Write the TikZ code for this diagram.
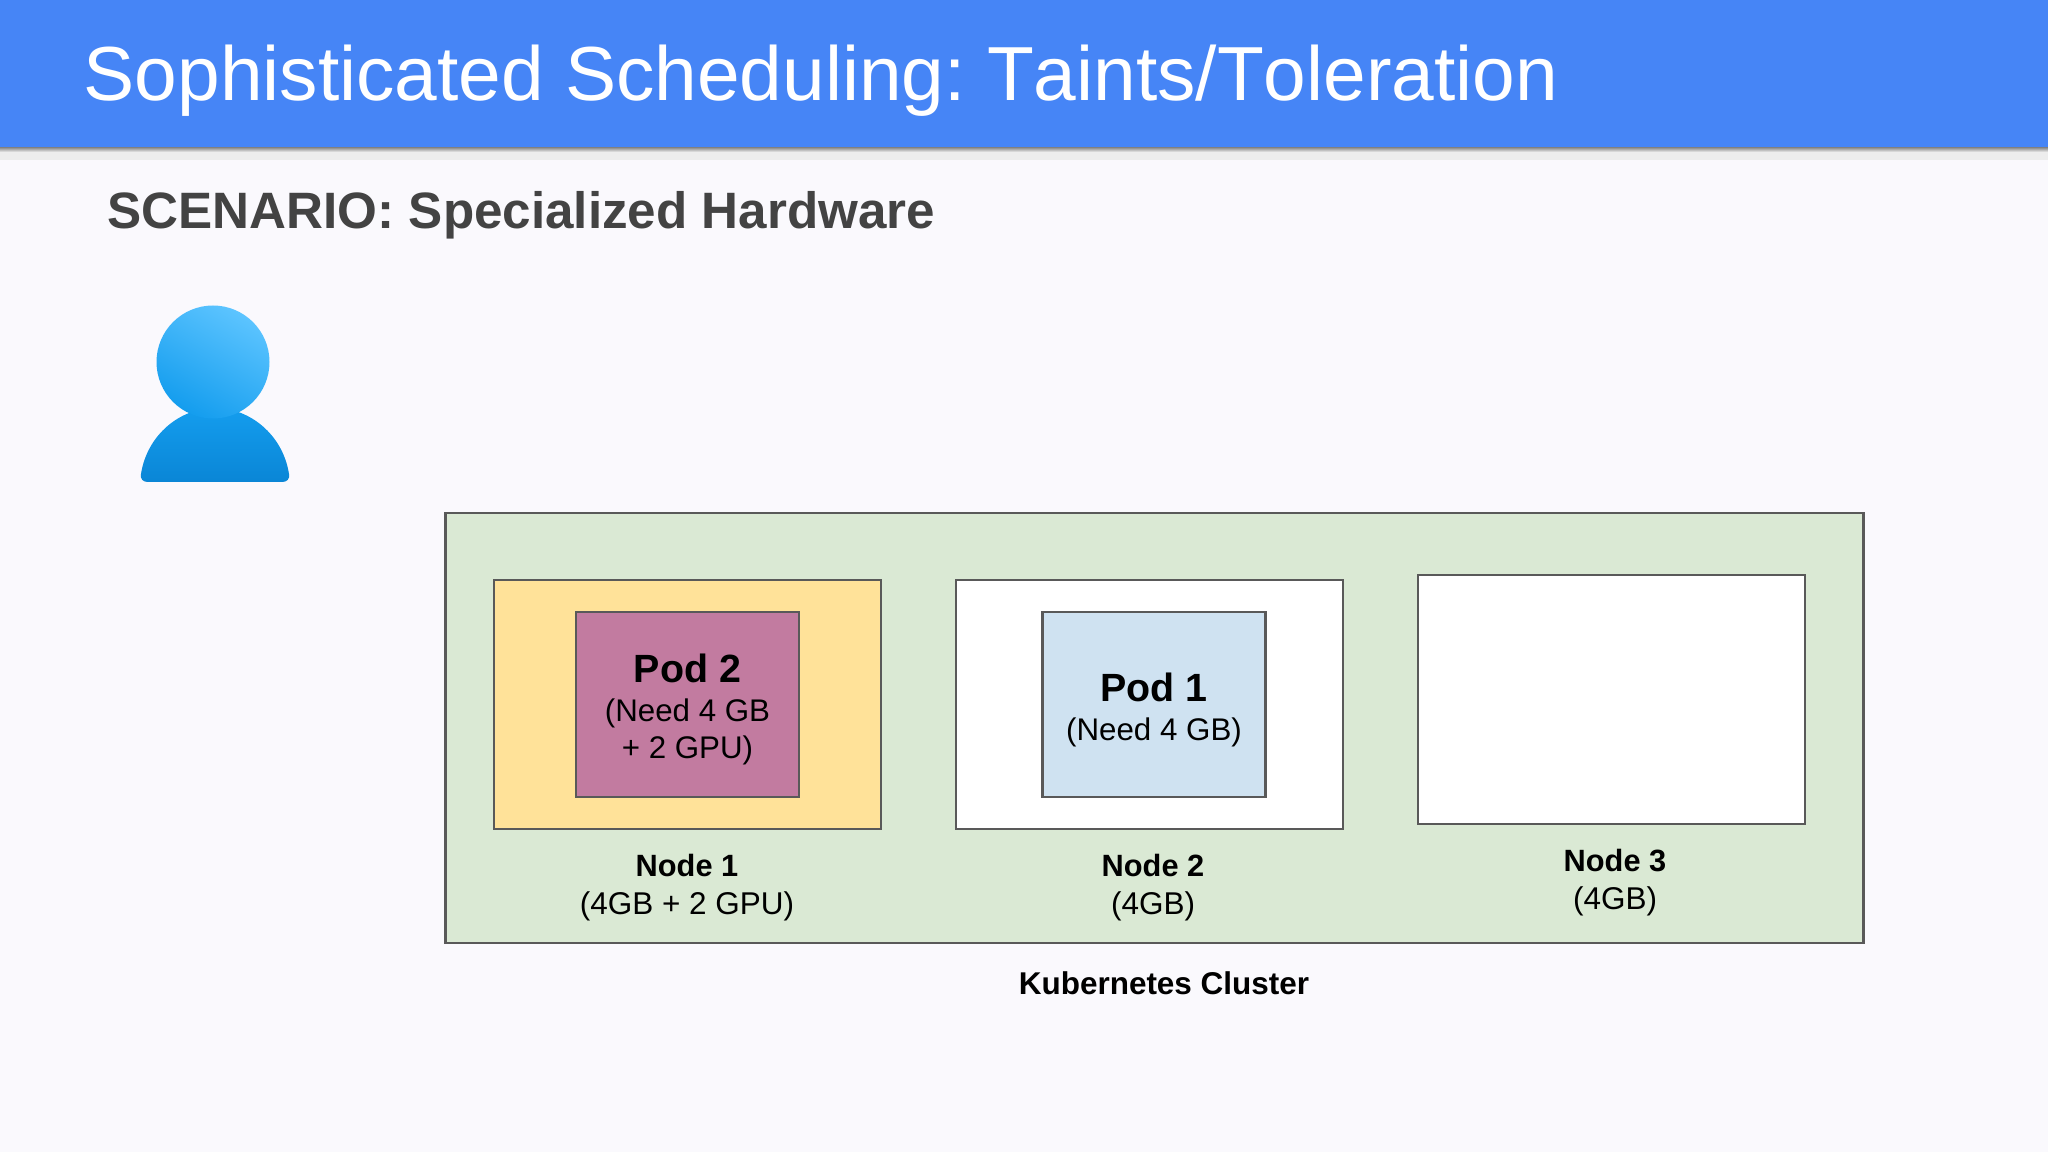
\documentclass[tikz,border=0pt]{standalone}
\usepackage{fontspec}
\setmainfont{Liberation Sans}[Kerning=Off]
\usepackage{tikz}
\frenchspacing

\definecolor{slidebg}{HTML}{FAF9FD}
\definecolor{titleblue}{HTML}{4685F6}
\definecolor{headgrey}{HTML}{434343}
\definecolor{linegrey}{HTML}{595959}
\definecolor{clustergreen}{HTML}{DAE9D4}
\definecolor{nodeyellow}{HTML}{FFE299}
\definecolor{podpurple}{HTML}{C27BA0}
\definecolor{podblue}{HTML}{CFE2F1}
\definecolor{iconlight}{HTML}{5CC4FF}
\definecolor{iconmid}{HTML}{149DEE}
\definecolor{icondark}{HTML}{0A86D6}

\tikzset{
  boxnode/.style={draw=linegrey, line width=0.65pt, inner sep=0pt, minimum width=3.87cm, minimum height=2.49cm},
  podnode/.style={draw=linegrey, line width=0.65pt, inner sep=0pt, minimum width=2.23cm, minimum height=1.85cm},
  podlabel/.style={align=center, inner sep=0pt, font=\fontsize{8.9}{10.6}\selectfont},
  caption/.style={align=center, inner sep=0pt, font=\fontsize{8.95}{10.8}\selectfont},
}
\newcommand{\podtitle}[1]{{\fontsize{11.2}{12}\selectfont\bfseries #1}}
\newcommand{\nodetitle}[1]{{\fontsize{8.75}{10.8}\selectfont\bfseries #1}}

\begin{document}
\begin{tikzpicture}[x=0.01cm,y=-0.01cm]
\useasboundingbox (0,0) rectangle (2048,1152);
\fill[slidebg] (0,0) rectangle (2048,1152);

% title bar
\fill[black!7] (0,147) rectangle (2048,160);
\shade[top color=black!50, bottom color=black!7] (0,147) rectangle (2048,152);
\fill[titleblue] (0,0) rectangle (2048,147);
\node (title) [anchor=base west, inner sep=0pt, text=white, font=\fontsize{21.8}{26}\selectfont] at (83,101) {Sophisticated Scheduling: Taints/Toleration};
\node (scenario) [anchor=base west, inner sep=0pt, text=headgrey, font=\fontsize{14.55}{18}\selectfont\bfseries] at (107,229) {SCENARIO: Specialized Hardware};

% user icon
\shade[top color=iconmid, bottom color=icondark]
  (141,474) .. controls (147,435) and (180,408) .. (215,408)
  .. controls (250,408) and (283,435) .. (289,474)
  .. controls (290,479) and (287,482) .. (282,482) -- (148,482)
  .. controls (143,482) and (140,479) .. (141,474) -- cycle;
\shade[top color=iconlight, bottom color=iconmid, shading angle=-30] (213,362) circle (56.5);

% cluster
\node (cluster) [draw=linegrey, line width=0.65pt, fill=clustergreen, inner sep=0pt, minimum width=14.17cm, minimum height=4.3cm] at (1154.5,728) {};
\node (clusterlabel) [inner sep=0pt, font=\fontsize{8.95}{11}\selectfont\bfseries] at (1164,983) {Kubernetes Cluster};

\node (node1) [boxnode, fill=nodeyellow] at (687.5,704.5) {};
\node (node2) [boxnode, fill=white] at (1149.5,704.5) {};
\node (node3) [boxnode, fill=white] at (1611.5,699.5) {};

\node (pod2) [podnode, fill=podpurple] at (687.5,704.5) {};
\node (pod1) [podnode, fill=podblue] at (1154,704.5) {};
\node (pod2label) [podlabel] at (687.5,709.5) {\podtitle{Pod 2}\\[0.5pt](Need 4 GB\\+ 2 GPU)};
\node (pod1label) [podlabel] at (1154,709.5) {\podtitle{Pod 1}\\[0.5pt](Need 4 GB)};

\node (node1label) [caption] at (687,888) {\nodetitle{Node 1}\\(4GB + 2 GPU)};
\node (node2label) [caption] at (1153,888) {\nodetitle{Node 2}\\(4GB)};
\node (node3label) [caption] at (1615,883) {\nodetitle{Node 3}\\(4GB)};
\end{tikzpicture}
\end{document}
